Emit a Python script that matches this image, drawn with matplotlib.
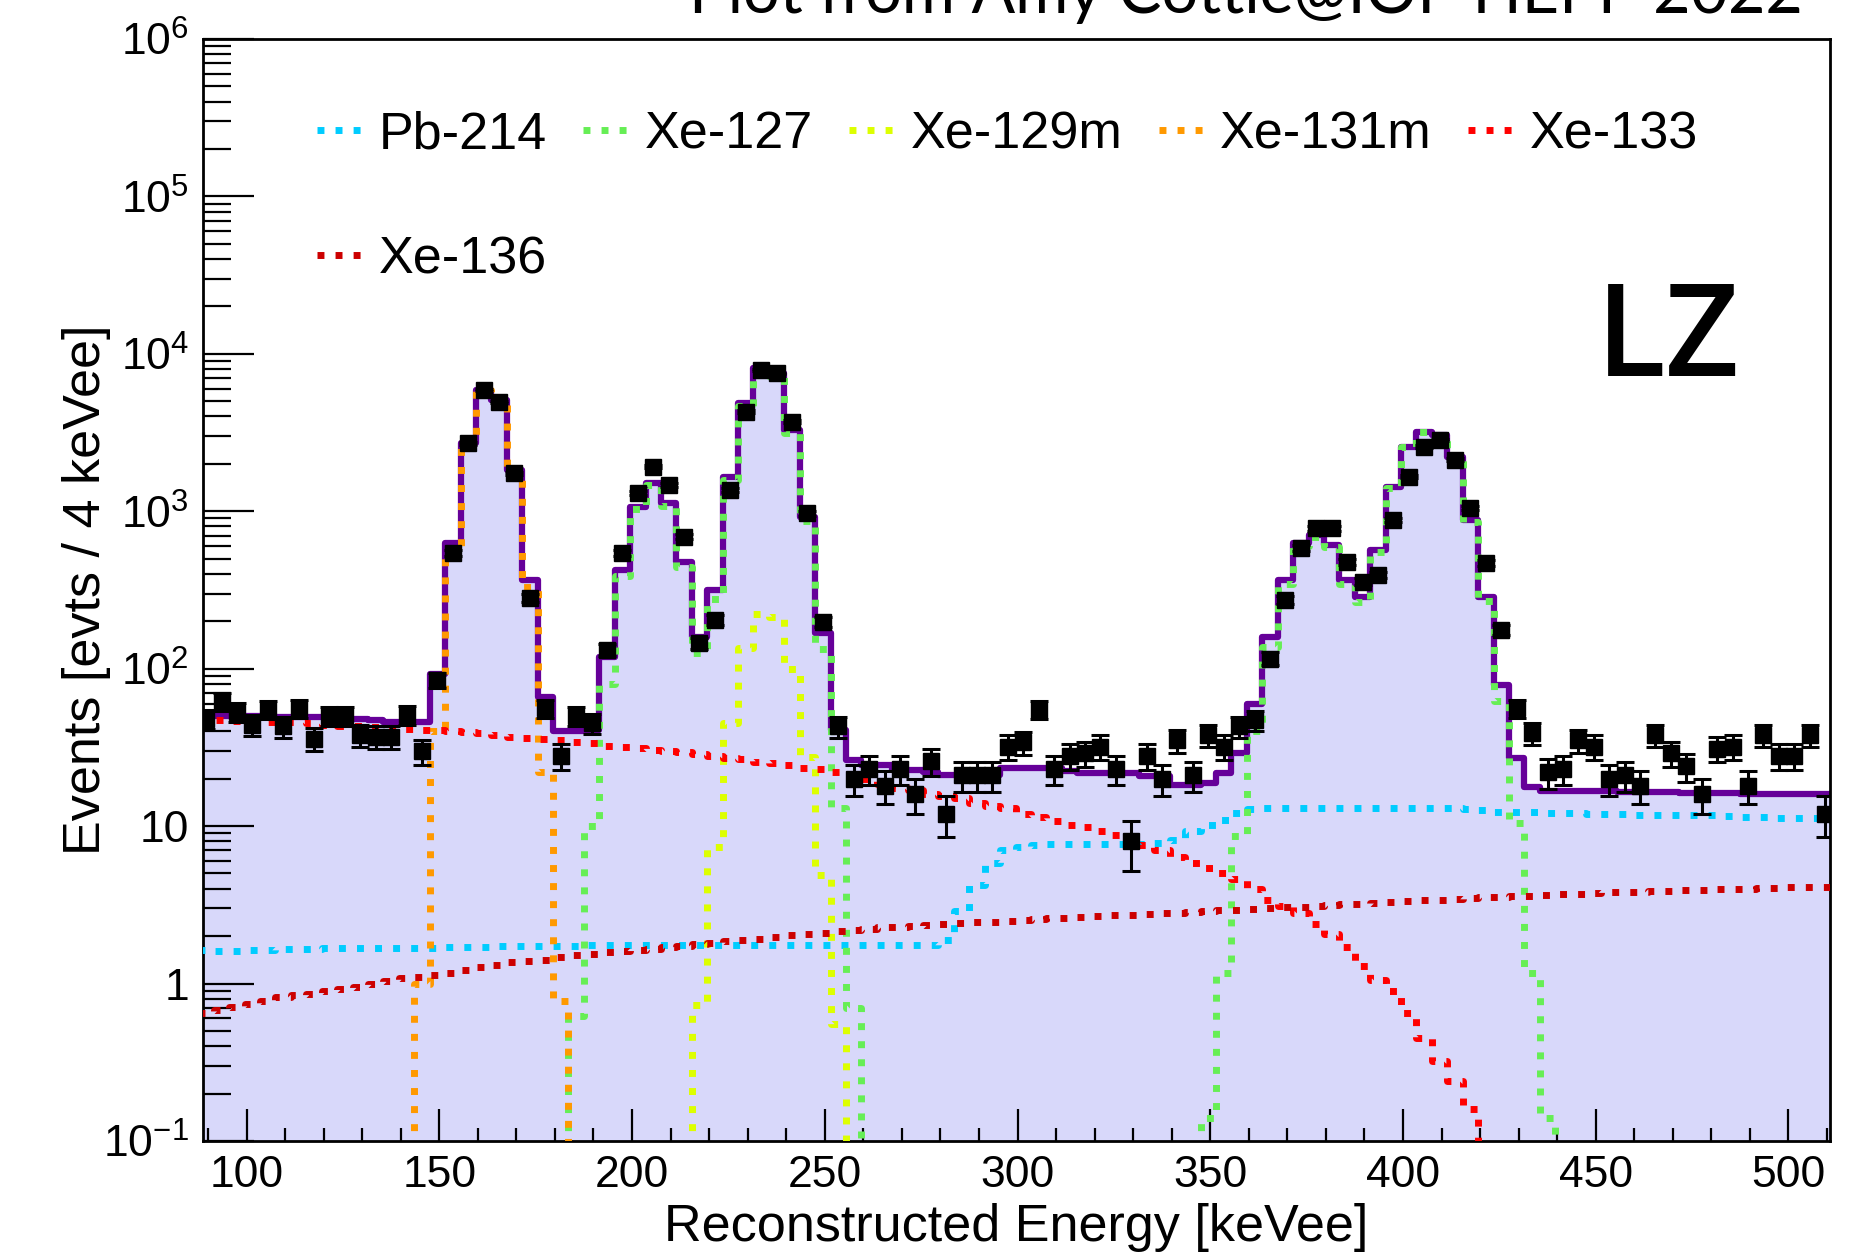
import numpy as np
import matplotlib
matplotlib.use("Agg")
import matplotlib.pyplot as plt
from matplotlib.lines import Line2D
from matplotlib.ticker import MultipleLocator, FixedLocator, FixedFormatter, LogLocator, NullFormatter

plt.rcParams["font.family"] = ["Liberation Sans", "DejaVu Sans"]

# ---------------------------------------------------------------- binning
BIN_LO = 87.5      # keVee, lower edge of the first bin
BIN_WIDTH = 4.0    # keVee
N_BINS = 106
edges = BIN_LO + BIN_WIDTH * np.arange(N_BINS + 1)
centers = 0.5 * (edges[:-1] + edges[1:])

# ---------------------------------------------------------------- data (events / bin)
data_counts = [
    48, 62, 53, 44, 55, 43, 56, 36, 50, 50,
    38, 37, 37, 51, 30, 85, 541, 2700, 5890, 4960,
    1740, 280, 56, 28, 50, 45, 131, 541, 1300, 1920,
    1470, 690, 145, 204, 1365, 4300, 7880, 7520, 3710, 970,
    199, 43, 20, 23, 18, 23, 16, 26, 12, 21,
    21, 21, 32, 34, 55, 23, 28, 29, 32, 23,
    8, 28, 20, 35, 21, 38, 32, 43, 47, 116,
    273, 582, 780, 780, 478, 357, 394, 880, 1660, 2570,
    2840, 2120, 1045, 468, 176, 56, 39, 22, 23, 35,
    32, 20, 21, 18, 38, 29, 24, 16, 31, 32,
    18, 38, 28, 28, 38, 12,
]

# ---------------------------------------------------------------- total fit model
total_model = [
    50, 50, 50, 50, 50, 49, 49, 49, 49, 48,
    48, 47, 46, 46, 46, 93, 627, 2700, 5890, 5090,
    1830, 366, 66, 40, 40, 41, 119, 424, 1070, 1510,
    1120, 478, 160, 316, 1660, 4850, 8090, 7520, 3290, 925,
    168, 41, 26.3, 24.4, 24.4, 22.7, 22.7, 22.0, 21.1, 21.1,
    21.1, 21.1, 23.3, 23.3, 23.3, 23.3, 22.5, 21.7, 21.7, 21.7,
    21.7, 20.7, 20.7, 18.2, 18.2, 18.7, 21.7, 29, 60, 160,
    366, 627, 706, 611, 366, 287, 568, 1430, 2570, 3200,
    3050, 2220, 880, 287, 79, 27, 17.8, 16.6, 16.6, 16.6,
    16.6, 16.6, 16.5, 16.5, 16.5, 16.4, 16.3, 16.3, 16.2, 16.2,
    16.1, 16.1, 16.0, 16.0, 16.0, 16.0,
]

# ---------------------------------------------------------------- fit components
pb214 = [
    1.63, 1.62, 1.62, 1.63, 1.64, 1.65, 1.66, 1.66, 1.67, 1.67,
    1.67, 1.68, 1.68, 1.68, 1.69, 1.69, 1.70, 1.70, 1.71, 1.72,
    1.72, 1.73, 1.73, 1.74, 1.74, 1.75, 1.75, 1.76, 1.76, 1.76,
    1.76, 1.76, 1.76, 1.76, 1.76, 1.76, 1.76, 1.76, 1.76, 1.76,
    1.76, 1.76, 1.76, 1.76, 1.76, 1.76, 1.76, 1.76, 1.90, 2.9,
    4.2, 5.8, 7.0, 7.4, 7.6, 7.7, 7.7, 7.7, 7.7, 7.7,
    7.7, 7.7, 7.8, 8.2, 9.3, 10.2, 11.0, 12.1, 12.9, 13.1,
    13.1, 13.0, 13.0, 13.0, 13.0, 13.0, 13.0, 13.0, 13.0, 13.0,
    13.0, 13.0, 12.9, 12.6, 12.3, 12.2, 12.2, 12.1, 12.1, 12.1,
    12.0, 12.0, 11.9, 11.8, 11.8, 11.8, 11.8, 11.7, 11.7, 11.6,
    11.5, 11.4, 11.3, 11.3, 11.2, 11.2,
]

xe127 = [
    0, 0, 0, 0, 0, 0, 0, 0, 0, 0,
    0, 0, 0, 0, 0, 0, 0, 0, 0, 0,
    0, 0, 0, 0, 0.62, 10, 80, 390, 1035, 1475,
    1085, 445, 125, 275, 1580, 4680, 7830, 7270, 3160, 867,
    133, 13, 0.7, 0, 0, 0, 0, 0, 0, 0,
    0, 0, 0, 0, 0, 0, 0, 0, 0, 0,
    0, 0, 0, 0, 0, 0.14, 1.16, 8.6, 40, 138,
    344, 605, 684, 590, 345, 266, 547, 1410, 2550, 3180,
    3030, 2200, 860, 268, 62, 10.5, 1.16, 0.14, 0, 0,
    0, 0, 0, 0, 0, 0, 0, 0, 0, 0,
    0, 0, 0, 0, 0, 0,
]

xe129m = [
    0, 0, 0, 0, 0, 0, 0, 0, 0, 0,
    0, 0, 0, 0, 0, 0, 0, 0, 0, 0,
    0, 0, 0, 0, 0, 0, 0, 0, 0, 0,
    0, 0, 0.73, 7.4, 45, 135, 224, 214, 100, 27.6,
    4.9, 0.55, 0, 0, 0, 0, 0, 0, 0, 0,
    0, 0, 0, 0, 0, 0, 0, 0, 0, 0,
    0, 0, 0, 0, 0, 0, 0, 0, 0, 0,
    0, 0, 0, 0, 0, 0, 0, 0, 0, 0,
    0, 0, 0, 0, 0, 0, 0, 0, 0, 0,
    0, 0, 0, 0, 0, 0, 0, 0, 0, 0,
    0, 0, 0, 0, 0, 0,
]

xe131m = [
    0, 0, 0, 0, 0, 0, 0, 0, 0, 0,
    0, 0, 0, 0, 1.0, 40, 580, 2650, 5850, 5050,
    1790, 330, 22, 0.78, 0, 0, 0, 0, 0, 0,
    0, 0, 0, 0, 0, 0, 0, 0, 0, 0,
    0, 0, 0, 0, 0, 0, 0, 0, 0, 0,
    0, 0, 0, 0, 0, 0, 0, 0, 0, 0,
    0, 0, 0, 0, 0, 0, 0, 0, 0, 0,
    0, 0, 0, 0, 0, 0, 0, 0, 0, 0,
    0, 0, 0, 0, 0, 0, 0, 0, 0, 0,
    0, 0, 0, 0, 0, 0, 0, 0, 0, 0,
    0, 0, 0, 0, 0, 0,
]

xe133 = [
    47, 47, 46.5, 46.5, 46, 46, 45.5, 45, 44, 43.5,
    43, 42.5, 42, 41.5, 41, 40.5, 40, 39.5, 39, 38,
    37, 36.5, 35.5, 35, 34, 33.5, 32.5, 32, 31.5, 30.5,
    30, 29.5, 28.5, 28, 27, 26.5, 25.5, 25, 24.4, 23.5,
    23, 22, 21, 20, 18.5, 17.5, 17, 16, 15.5, 15,
    14, 13.5, 13, 12, 11.5, 10.8, 10.2, 9.8, 9.3, 8.8,
    8.2, 7.6, 7.0, 6.4, 5.8, 5.4, 5.0, 4.6, 4.0, 3.4,
    3.1, 2.8, 2.4, 2.05, 1.7, 1.3, 1.05, 0.9, 0.65, 0.45,
    0.32, 0.24, 0.16, 0.07, 0, 0, 0, 0, 0, 0,
    0, 0, 0, 0, 0, 0, 0, 0, 0, 0,
    0, 0, 0, 0, 0, 0,
]

xe136 = [
    0.65, 0.68, 0.71, 0.74, 0.78, 0.82, 0.84, 0.86, 0.89, 0.92,
    0.95, 0.99, 1.04, 1.08, 1.10, 1.13, 1.17, 1.21, 1.27, 1.31,
    1.36, 1.40, 1.42, 1.47, 1.51, 1.55, 1.58, 1.60, 1.63, 1.66,
    1.70, 1.74, 1.77, 1.82, 1.85, 1.90, 1.93, 1.98, 2.03, 2.06,
    2.10, 2.15, 2.18, 2.22, 2.27, 2.30, 2.33, 2.36, 2.38, 2.42,
    2.45, 2.47, 2.50, 2.53, 2.56, 2.59, 2.62, 2.65, 2.68, 2.71,
    2.74, 2.77, 2.80, 2.82, 2.85, 2.88, 2.92, 2.95, 2.98, 3.01,
    3.05, 3.08, 3.12, 3.15, 3.18, 3.22, 3.25, 3.29, 3.33, 3.37,
    3.41, 3.45, 3.48, 3.52, 3.55, 3.59, 3.62, 3.65, 3.68, 3.72,
    3.76, 3.79, 3.82, 3.84, 3.86, 3.88, 3.91, 3.94, 3.97, 3.99,
    4.01, 4.03, 4.06, 4.08, 4.10, 4.12,
]

component_names = ["Pb-214", "Xe-127", "Xe-129m", "Xe-131m", "Xe-133", "Xe-136"]
component_values = [pb214, xe127, xe129m, xe131m, xe133, xe136]
component_colors = ["#00ccff", "#66ee55", "#ddff00", "#ff9900", "#ff0000", "#cc0000"]

y_tick_values = [0.1, 1, 10, 1e2, 1e3, 1e4, 1e5, 1e6]
y_tick_labels = [r"$\mathregular{10^{-1}}$", "1", "10", r"$\mathregular{10^{2}}$",
                 r"$\mathregular{10^{3}}$", r"$\mathregular{10^{4}}$",
                 r"$\mathregular{10^{5}}$", r"$\mathregular{10^{6}}$"]

# ---------------------------------------------------------------- figure
FLOOR = 1e-3  # empty bins are pushed below the visible range


def floored(values):
    arr = np.asarray(values, dtype=float)
    return np.where(arr > 0, arr, FLOOR)


def step_xy(values):
    """Edges and values laid out for a post-step outline of a histogram."""
    v = floored(values)
    return edges, np.append(v, v[-1])


fig = plt.figure(figsize=(18.54, 12.56), dpi=100)
ax = fig.add_axes([0.1095, 0.0916, 0.8776, 0.8774])
ax.set_yscale("log")
ax.set_xlim(88.7, 510.8)
ax.set_ylim(0.1, 1e6)

# total model: shaded area plus solid outline
ax.stairs(floored(total_model), edges, baseline=FLOOR, fill=True,
          color="#d8d8fa", linewidth=0, zorder=1)
xs, ys = step_xy(total_model)
ax.step(xs, ys, where="post", color="#660099", linewidth=4.5, zorder=2)

DOTS = (0, (1.0, 1.6))
LW_COMP = 5.0
handles = []
for vals, col in zip(component_values, component_colors):
    xs, ys = step_xy(vals)
    ax.step(xs, ys, where="post", color=col, linewidth=LW_COMP,
            linestyle=DOTS, dash_capstyle="butt", zorder=3)
    handles.append(Line2D([], [], color=col, linewidth=LW_COMP, linestyle=DOTS,
                          dash_capstyle="butt"))

# data points with statistical errors
counts = np.asarray(data_counts, dtype=float)
ax.errorbar(centers, counts, xerr=BIN_WIDTH / 2, fmt="none", ecolor="black",
            elinewidth=2.2, capsize=0, zorder=4)
ax.errorbar(centers, counts, yerr=np.sqrt(counts), fmt="s", color="black",
            markersize=11, elinewidth=2.2, capsize=6.5, capthick=2.2, zorder=5)

# axes styling
for sp in ax.spines.values():
    sp.set_linewidth(2.0)
ax.xaxis.set_major_locator(MultipleLocator(50))
ax.xaxis.set_minor_locator(MultipleLocator(10))
ax.yaxis.set_major_locator(FixedLocator(y_tick_values))
ax.yaxis.set_major_formatter(FixedFormatter(y_tick_labels))
ax.yaxis.set_minor_locator(LogLocator(base=10, subs=np.arange(2, 10), numticks=30))
ax.yaxis.set_minor_formatter(NullFormatter())
ax.tick_params(which="both", direction="in", top=False, right=False, colors="black")
ax.tick_params(axis="x", which="major", length=23, width=1.6, pad=10, labelsize=32)
ax.tick_params(axis="x", which="minor", length=9.5, width=1.6)
ax.tick_params(axis="y", which="major", length=37, width=1.6, pad=10, labelsize=32)
ax.tick_params(axis="y", which="minor", length=20, width=1.6)

ax.set_xlabel("Reconstructed Energy [keVee]", fontsize=37.5, va="baseline")
ax.xaxis.set_label_coords(0.5, -0.0907)
ax.set_ylabel("Events [evts / 4 keVee]", fontsize=37.5, va="baseline")
ax.yaxis.set_label_coords(-0.0633, 0.5)

# legend: first column holds Pb-214 above Xe-136
order = [0, 5, 1, 2, 3, 4]
ax.legend([handles[k] for k in order], [component_names[k] for k in order],
          ncol=5, loc="upper left", bbox_to_anchor=(0.070, 0.935),
          frameon=False, fontsize=37.5, handlelength=0.85, handletextpad=0.33,
          columnspacing=0.7, labelspacing=1.45, borderpad=0, borderaxespad=0)

fig.text(0.8608, 0.7006, "LZ", fontsize=93, family=["Open Sans", "DejaVu Sans"],
         fontweight="semibold", ha="left", va="baseline")
fig.text(0.9725, 0.9897, "Plot from Amy Cottle@IOP HEPP 2022", fontsize=46.5,
         family=["Lato", "DejaVu Sans"], fontweight="normal", color="black",
         ha="right", va="baseline")

fig.savefig("out.png", dpi=100)
